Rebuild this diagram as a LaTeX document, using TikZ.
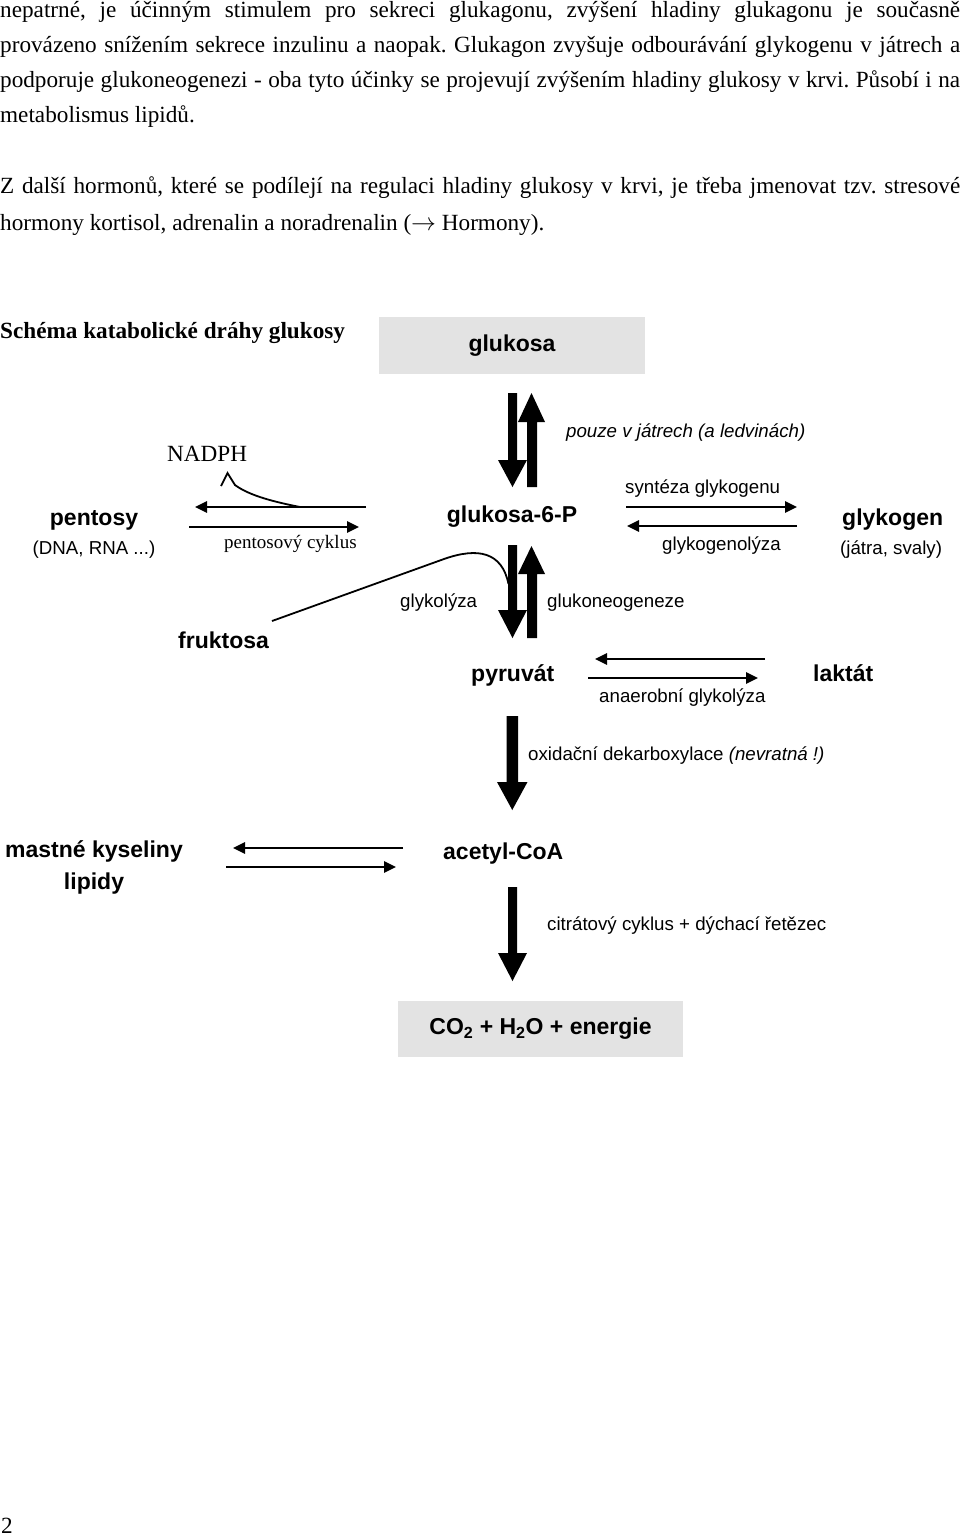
\documentclass[tikz,border=0pt]{standalone}
\usepackage{fontspec}
\setmainfont{Liberation Serif}
\newfontfamily\arial{Liberation Sans}
\usetikzlibrary{arrows.meta}
\frenchspacing
\begin{document}
\begin{tikzpicture}[x=1pt,y=-1pt,
  body/.style={font=\frenchspacing\fontsize{23.2}{27}\selectfont, inner sep=0pt, anchor=base west},
  head/.style={font=\bfseries\fontsize{23.2}{27}\selectfont, inner sep=0pt, anchor=base west},
  lab/.style={font=\arial\fontsize{18.7}{22}\selectfont, inner sep=0pt, anchor=base west},
  blab/.style={font=\arial\bfseries\fontsize{23}{27}\selectfont, inner sep=0pt, anchor=base west},
  slab/.style={font=\fontsize{19}{22}\selectfont, inner sep=0pt, anchor=base west},
  thinarr/.style={line width=2.6pt, -{Triangle[length=12pt,width=11pt]}},
  curveline/.style={line width=1.8pt},
  block/.style={fill=black},
  graybox/.style={fill=black!11, draw=none, inner sep=0pt}
]
\useasboundingbox (0,0) rectangle (960,1535);

% ---- body text ----
\node[body] (p1) at (0,17) {\makebox[960pt][s]{nepatrné, je účinným stimulem pro sekreci glukagonu, zvýšení hladiny glukagonu je současně}};
\node[body] (p2) at (0,52) {\makebox[960pt][s]{provázeno snížením sekrece inzulinu a naopak. Glukagon zvyšuje odbourávání glykogenu v játrech a}};
\node[body] (p3) at (0,87) {\makebox[960pt][s]{podporuje glukoneogenezi - oba tyto účinky se projevují zvýšením hladiny glukosy v krvi. Působí i na}};
\node[body] (p4) at (0,122) {metabolismus lipidů.};
\node[body] (p5) at (0,193) {\makebox[960pt][s]{Z další hormonů, které se podílejí na regulaci hladiny glukosy v krvi, je třeba jmenovat tzv. stresové}};
\node[body] (p6) at (0,230) {hormony kortisol, adrenalin a noradrenalin ($\rightarrow$ Hormony).};

\node[head] (title) at (0,338) {Schéma katabolické dráhy glukosy};

% ---- boxes ----
\node[graybox, minimum width=266pt, minimum height=57pt, font=\arial\bfseries\fontsize{23}{27}\selectfont] (glukosa) at (512,345.5) {glukosa};
\node[graybox, minimum width=285pt, minimum height=56pt, font=\arial\bfseries\fontsize{23}{27}\selectfont] (co2) at (540.5,1029) {CO\textsubscript{2} + H\textsubscript{2}O + energie};

% ---- labels ----
\node[lab, font=\arial\itshape\fontsize{18.7}{22}\selectfont] (pouze) at (566,437) {pouze v játrech (a ledvinách)};
\node[body] (nadph) at (167,461) {NADPH};
\node[lab] (synt) at (625,493) {syntéza glykogenu};
\node[blab, anchor=base] (pentosy) at (94,525) {pentosy};
\node[lab, anchor=base] (dna) at (94,554) {(DNA, RNA ...)};
\node[blab, anchor=base] (g6p) at (512,522) {glukosa-6-P};
\node[blab] (glykogen) at (842,525) {glykogen};
\node[lab] (jatra) at (840,554) {(játra, svaly)};
\node[slab] (pcyk) at (224,548) {pentosový cyklus};
\node[lab] (glglyz) at (662,550) {glykogenolýza};
\node[lab] (glyk) at (400,607) {glykolýza};
\node[lab] (glukneo) at (547,607) {glukoneogeneze};
\node[blab] (fruktosa) at (178,648) {fruktosa};
\node[blab] (pyruvat) at (471,681) {pyruvát};
\node[blab] (laktat) at (813,681) {laktát};
\node[lab] (anaer) at (599,702) {anaerobní glykolýza};
\node[lab] (oxid) at (528,760) {oxidační dekarboxylace \textit{(nevratná !)}};
\node[blab, anchor=base] (mastne) at (94,857) {mastné kyseliny};
\node[blab, anchor=base] (lipidy) at (94,889) {lipidy};
\node[blab] (acetyl) at (443,859) {acetyl-CoA};
\node[lab] (citrat) at (547,930) {citrátový cyklus + dýchací řetězec};
\node[body] (pagenum) at (1,1533) {2};

% ---- thin arrow end points ----
\coordinate (na1) at (366,507); \coordinate (na2) at (195,507);
\coordinate (nb1) at (189,527); \coordinate (nb2) at (359,527);
\coordinate (ga1) at (626,507); \coordinate (ga2) at (797,507);
\coordinate (gb1) at (797,526); \coordinate (gb2) at (627,526);
\coordinate (la1) at (765,659); \coordinate (la2) at (595,659);
\coordinate (lb1) at (588,678); \coordinate (lb2) at (758,678);
\coordinate (aa1) at (403,848); \coordinate (aa2) at (233,848);
\coordinate (ab1) at (226,867); \coordinate (ab2) at (396,867);

\draw[thinarr] (na1) -- (na2);
\draw[thinarr] (nb1) -- (nb2);
\draw[thinarr] (ga1) -- (ga2);
\draw[thinarr] (gb1) -- (gb2);
\draw[thinarr] (la1) -- (la2);
\draw[thinarr] (lb1) -- (lb2);
\draw[thinarr] (aa1) -- (aa2);
\draw[thinarr] (ab1) -- (ab2);

% ---- NADPH hook ----
\coordinate (hookL) at (221,486); \coordinate (hookT) at (227.5,473); \coordinate (hookR) at (235,485);
\coordinate (hookE) at (300,507);
\draw[curveline, line join=miter] (hookL) -- (hookT) -- (hookR) .. controls (250,496) and (275,502) .. (hookE);

% ---- fruktosa curve ----
\coordinate (fr1) at (272,621); \coordinate (fr2) at (444,559); \coordinate (fr3) at (508.5,584);
\draw[curveline] (fr1) -- (fr2) .. controls (478,547) and (502,552) .. (fr3);

% ---- block arrows ----
% glukosa <-> glukosa-6-P
\fill[block] (508,393) -- (517,393) -- (517,460) -- (527,460) -- (512.5,487) -- (498,460) -- (508,460) -- cycle;
\fill[block] (527,487) -- (537,487) -- (537,422) -- (545,422) -- (531.5,393) -- (518,422) -- (527,422) -- cycle;
% glukosa-6-P <-> pyruvat
\fill[block] (508,545) -- (517,545) -- (517,610) -- (527,610) -- (512.5,638) -- (498,610) -- (508,610) -- cycle;
\fill[block] (527,638) -- (537,638) -- (537,574) -- (545,574) -- (531.5,546) -- (518,574) -- (527,574) -- cycle;
% pyruvat -> acetyl-CoA
\fill[block] (506.5,716) -- (518,716) -- (518,782) -- (527.5,782) -- (512.25,810) -- (497,782) -- (506.5,782) -- cycle;
% acetyl-CoA -> CO2
\fill[block] (508,887) -- (517,887) -- (517,953) -- (527,953) -- (512.5,981) -- (498,953) -- (508,953) -- cycle;
\end{tikzpicture}
\end{document}
